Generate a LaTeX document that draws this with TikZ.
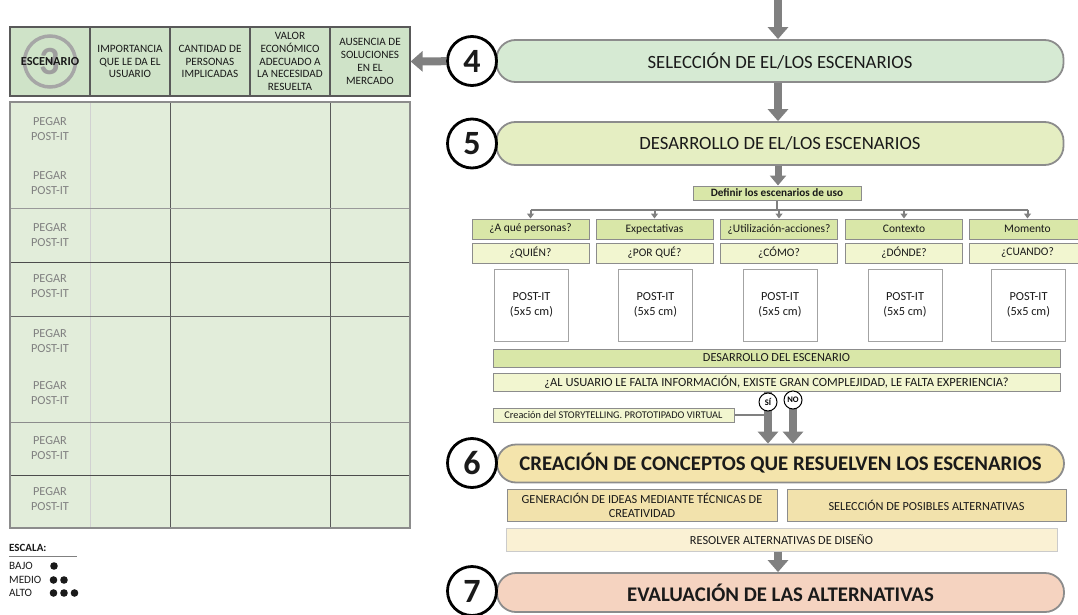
\documentclass[tikz,border=0pt]{standalone}
\usepackage{fontspec}
\setmainfont{Carlito}
\usetikzlibrary{arrows.meta,positioning}

\definecolor{arrowgray}{HTML}{808080}
\definecolor{bordergray}{HTML}{8C8C8C}
\definecolor{textdark}{HTML}{1A1A1A}
\definecolor{selgreen}{HTML}{D6EAD3}
\definecolor{desgreen}{HTML}{E5EEC2}
\definecolor{creayel}{HTML}{F4E4AC}
\definecolor{evalpink}{HTML}{F5D3C0}
\definecolor{qgreen}{HTML}{D9E7A8}
\definecolor{qlight}{HTML}{F2F6D0}
\definecolor{ideabox}{HTML}{F2E2AC}
\definecolor{resolv}{HTML}{FAF1D4}
\definecolor{headgreen}{HTML}{CFE3C8}
\definecolor{bodygreen}{HTML}{E2EDDA}

\tikzset{
  bigarrow/.style={draw=arrowgray, line width=8pt, -{Triangle[length=12pt,width=20pt]}},
  treeline/.style={draw=arrowgray, line width=2pt},
  treearrow/.style={treeline, -{Triangle[length=5pt,width=7pt]}},
  phase/.style={draw=bordergray, line width=1.8pt, rounded corners=19pt,
    minimum width=567, text=textdark, font=\fontsize{18.7}{22}\selectfont},
  stepnum/.style={circle, draw=black, line width=2.8pt, fill=white, minimum size=49,
    inner sep=0pt, text=textdark, font=\bfseries\fontsize{34}{36}\selectfont},
  usebox/.style={draw=bordergray, line width=1pt, minimum width=117, minimum height=20,
    inner sep=0pt, text=textdark, font=\fontsize{11.5}{13}\selectfont},
  postit/.style={draw=bordergray!80, line width=0.8pt, fill=white, minimum width=74,
    minimum height=72, align=center, text=textdark, font=\fontsize{12.3}{15}\selectfont},
  bar/.style={draw=bordergray, line width=1pt, inner sep=0pt, align=center,
    text=textdark, font=\fontsize{12.3}{14}\selectfont},
  yesno/.style={circle, draw=black, line width=1pt, fill=white, minimum size=18,
    inner sep=0pt, font=\bfseries\fontsize{8.5}{9}\selectfont},
  headcell/.style={draw=black!65, line width=1.2pt, fill=headgreen, minimum width=80,
    minimum height=69, inner sep=0pt, align=center, text=textdark,
    font=\fontsize{11.2}{12.8}\selectfont},
  pegar/.style={align=center, text=black!50, font=\fontsize{12.3}{15}\selectfont},
  legend/.style={anchor=west, inner sep=0pt, text=textdark, font=\fontsize{11.2}{13}\selectfont}
}

\begin{document}
\begin{tikzpicture}[x=1pt, y=-1pt]
  \useasboundingbox (0,0) rectangle (1078,615);

  % table of scenarios
  \node[headcell] (hEsc) at (50,61.5) {};
  \node[circle, draw=black!35, line width=3.5pt, minimum size=51] (ring) at (hEsc) {};
  \node[text=black!38, font=\bfseries\fontsize{40}{40}\selectfont] (three) at (hEsc) {3};
  \node[text=textdark, inner sep=0pt, font=\bfseries\fontsize{12.3}{14}\selectfont] (escen) at (hEsc) {ESCENARIO};
  \node[headcell] (hImp) at (130,61.5) {IMPORTANCIA\\QUE LE DA EL\\USUARIO};
  \node[headcell] (hCan) at (210,61.5) {CANTIDAD DE\\PERSONAS\\IMPLICADAS};
  \node[headcell] (hVal) at (290,61.5) {VALOR\\ECONÓMICO\\ADECUADO A\\LA NECESIDAD\\RESUELTA};
  \node[headcell] (hAus) at (370,61.5) {AUSENCIA DE\\SOLUCIONES\\EN EL\\MERCADO};

  \fill[bodygreen] (10,102) rectangle (410,528);
  \draw[draw=black!18, line width=0.8pt] (90,102) -- (90,528);
  \foreach \x in {170,330}
    \draw[draw=black!65, line width=1pt] (\x,102) -- (\x,528);
  \foreach \y/\c in {208/black!40, 262/black!70, 316/black!60, 422/black!45, 475/black!70}
    \draw[draw=\c, line width=1pt] (10,\y) -- (410,\y);
  \draw[draw=black!45, line width=1.5pt] (10,102) rectangle (410,528);
  \foreach \y [count=\i] in {129,183.5,235,286.5,341.5,393.5,448.5,499.5}
    \node[pegar] (peg\i) at (50,\y) {PEGAR\\POST-IT};

  % scale
  \node[legend, font=\bfseries\fontsize{11}{13}\selectfont] (escala) at (9,548) {ESCALA:};
  \draw[draw=black!50, line width=0.8pt] (9,556) -- (77,556);
  \node[legend] (bajo) at (9,566) {BAJO};
  \node[legend] (medio) at (9,580) {MEDIO};
  \node[legend] (alto) at (9,593) {ALTO};
  \fill[textdark] (54,566) circle[radius=3.8pt];
  \foreach \x in {53.5,64} \fill[textdark] (\x,580) circle[radius=3.8pt];
  \foreach \x in {53.5,64,74.5} \fill[textdark] (\x,593) circle[radius=3.8pt];

  % phases 4 and 5
  \coordinate (entry) at (778,0);
  \node[phase, fill=selgreen, minimum height=42] (sel) at (780,61) {SELECCIÓN DE EL/LOS ESCENARIOS};
  \node[stepnum] (n4) at (472,61) {4};
  \node[phase, fill=desgreen, minimum height=43] (des) at (780,143.5) {DESARROLLO DE EL/LOS ESCENARIOS};
  \node[stepnum] (n5) at (472,143.5) {5};
  \draw[bigarrow] (entry) -- (entry |- sel.north);
  \draw[bigarrow] (sel.south -| entry) -- (des.north -| entry);
  \draw[bigarrow] (n4) -- (hAus.east);

  \node[usebox, fill=qgreen, minimum width=168, minimum height=14,
    font=\bfseries\fontsize{11.2}{12}\selectfont] (defn) at (777,193) {Definir los escenarios de uso};
  \draw[bigarrow, line width=7pt, -{Triangle[length=10pt,width=16pt]}] (des.south -| entry) -- (defn.north -| entry);

  \foreach \n/\x/\ta/\tb in {a/530.5/{¿A qué personas?}/{¿QUIÉN?},
      b/654.5/Expectativas/{¿POR QUÉ?},
      c/779/{¿Utilización-acciones?}/{¿CÓMO?},
      d/904/Contexto/{¿DÓNDE?},
      e/1027.5/Momento/{¿CUANDO?}} {
    \node[usebox, fill=qgreen] (q\n) at (\x,229) {\ta};
    \node[usebox, fill=qlight] (w\n) at (\x,253) {\tb};
    \node[postit] (p\n) at (\x+1,305) {POST-IT\\(5x5 cm)};
  }
  \draw[treeline] (defn.south) -- ++(0,9) coordinate (split);
  \draw[treeline] (qa.north |- split) -- (qe.north |- split);
  \foreach \n in {a,b,c,d,e}
    \draw[treearrow] (q\n.north |- split) -- (q\n.north);

  \node[bar, fill=qgreen, minimum width=567, minimum height=18] (desesc) at (776.5,358) {DESARROLLO DEL ESCENARIO};
  \node[bar, fill=qlight, minimum width=567, minimum height=18, font=\fontsize{12.5}{14}\selectfont]
    (usuario) at (776.5,382) {¿AL USUARIO LE FALTA INFORMACIÓN, EXISTE GRAN COMPLEJIDAD, LE FALTA EXPERIENCIA?};
  \node[bar, fill=qlight, minimum width=241, minimum height=14, font=\fontsize{10.3}{11}\selectfont]
    (story) at (613.5,415) {Creación del STORYTELLING. PROTOTIPADO VIRTUAL};

  % phase 6
  \node[phase, fill=creayel, minimum height=38, font=\bfseries\fontsize{20.8}{24}\selectfont]
    (crea) at (780.5,463.5) {CREACIÓN DE CONCEPTOS QUE RESUELVEN LOS ESCENARIOS};
  \node[stepnum] (n6) at (472,463) {6};
  \coordinate (sipos) at (768,402);
  \coordinate (nopos) at (793,400);
  \draw[bigarrow] (usuario.south -| sipos) -- (crea.north -| sipos);
  \draw[bigarrow] (usuario.south -| nopos) -- (crea.north -| nopos);
  \draw[treeline] (story.east) -- (story.east -| sipos);
  \node[yesno] (si) at (sipos) {SÍ};
  \node[yesno] (no) at (nopos) {NO};

  \node[bar, fill=ideabox, minimum width=270, minimum height=32] (ideas) at (642,505)
    {GENERACIÓN DE IDEAS MEDIANTE TÉCNICAS DE\\CREATIVIDAD};
  \node[bar, fill=ideabox, minimum width=279, minimum height=32] (alts) at (926.5,505)
    {SELECCIÓN DE POSIBLES ALTERNATIVAS};
  \node[bar, fill=resolv, draw=bordergray!45, minimum width=551, minimum height=23] (resol) at (781.5,539.5)
    {RESOLVER ALTERNATIVAS DE DISEÑO};

  % phase 7
  \node[phase, fill=evalpink, minimum height=39, font=\bfseries\fontsize{20.8}{24}\selectfont]
    (eval) at (780.5,592.5) {EVALUACIÓN DE LAS ALTERNATIVAS};
  \node[stepnum] (n7) at (472,591) {7};
  \draw[bigarrow] (resol.south -| entry) -- (eval.north -| entry);
\end{tikzpicture}
\end{document}
